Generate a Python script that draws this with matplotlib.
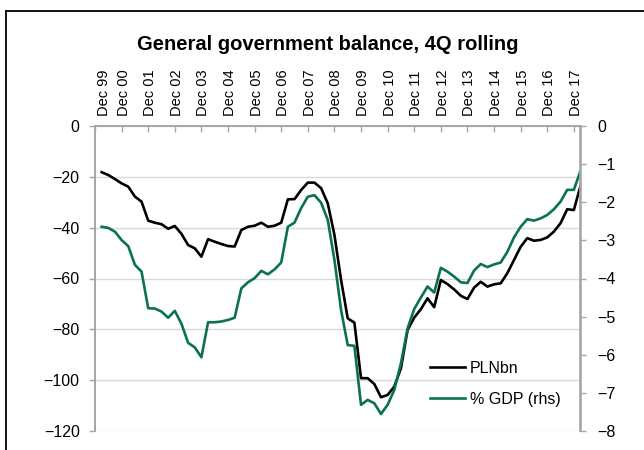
import matplotlib
matplotlib.use("Agg")
import matplotlib.pyplot as plt
from matplotlib.lines import Line2D
import numpy as np

plt.rcParams['font.family'] = ['Liberation Sans', 'DejaVu Sans']

# Quarterly data, Mar00 .. Mar18 (category index 1..73 on the axis)
pln_bn = [-18.1, -19.2, -20.8, -22.5, -23.8, -27.7, -29.7, -37.2, -38.0, -38.6,
          -40.4, -39.3, -42.4, -46.8, -48.1, -51.4, -44.5, -45.5, -46.4, -47.2,
          -47.4, -40.9, -39.6, -39.2, -38.0, -39.6, -39.2, -38.0, -28.8, -28.7,
          -25.1, -22.2, -22.2, -24.4, -30.4, -42.8, -60.6, -75.7, -77.4, -99.3,
          -99.3, -101.6, -106.8, -105.9, -102.6, -95.4, -80.3, -75.4, -72.1, -67.8,
          -71.3, -60.6, -62.2, -64.3, -66.8, -68.1, -63.6, -61.3, -63.2, -62.3,
          -61.9, -57.9, -52.7, -47.5, -44.1, -45.1, -44.8, -43.8, -41.5, -38.2,
          -32.7, -33.0, -23.5]

pct_gdp = [-2.64, -2.67, -2.77, -2.99, -3.15, -3.64, -3.82, -4.78, -4.79, -4.87,
           -5.03, -4.85, -5.19, -5.69, -5.81, -6.07, -5.15, -5.15, -5.13, -5.09,
           -5.03, -4.26, -4.10, -3.99, -3.80, -3.89, -3.76, -3.58, -2.64, -2.53,
           -2.15, -1.85, -1.81, -2.01, -2.46, -3.51, -4.83, -5.75, -5.77, -7.32,
           -7.19, -7.28, -7.56, -7.32, -6.93, -6.23, -5.31, -4.80, -4.50, -4.21,
           -4.37, -3.72, -3.82, -3.95, -4.10, -4.12, -3.79, -3.62, -3.70, -3.63,
           -3.58, -3.30, -2.92, -2.64, -2.44, -2.48, -2.42, -2.33, -2.18, -1.98,
           -1.67, -1.67, -1.17]

year_labels = ["Dec 99", "Dec 00", "Dec 01", "Dec 02", "Dec 03", "Dec 04", "Dec 05",
               "Dec 06", "Dec 07", "Dec 08", "Dec 09", "Dec 10", "Dec 11", "Dec 12",
               "Dec 13", "Dec 14", "Dec 15", "Dec 16", "Dec 17"]

black = "#000000"
green = "#0a7250"
axis_grey = "#a6a6a6"
grid_grey = "#d9d9d9"

fig = plt.figure(figsize=(6.44, 4.5), dpi=100)
ax = fig.add_axes([95 / 644, 1 - 430.7 / 450, 485.5 / 644, 304.4 / 450])
ax2 = ax.twinx()

x = np.arange(1, len(pln_bn) + 1)
ax.plot(x, pln_bn, color=black, lw=1.9, solid_joinstyle='round')
ax2.plot(x, pct_gdp, color=green, lw=1.9, solid_joinstyle='round')

ax.set_xlim(0, 73)
ax.set_ylim(-120, 0)
ax2.set_ylim(-8, 0)
ax.set_yticks(np.arange(-120, 1, 20))
ax2.set_yticks(np.arange(-8, 1, 1))

ax.grid(axis='y', color=grid_grey, lw=1)
ax.set_axisbelow(True)

for a in (ax, ax2):
    a.spines['bottom'].set_visible(False)
    for s in ('top', 'left', 'right'):
        a.spines[s].set_color(axis_grey)
        a.spines[s].set_linewidth(1.2)

ax.tick_params(axis='y', direction='out', length=4, width=1, color=axis_grey,
               labelsize=11.5, pad=7)
ax2.tick_params(axis='y', direction='out', length=4, width=1, color=axis_grey,
                labelsize=11.5, pad=8)

# category axis along the top (value 0), tick marks pointing down
ticks = np.arange(0, 73, 4)
ax.set_xticks(ticks)
ax.xaxis.set_ticks_position('top')
ax.tick_params(axis='x', direction='in', length=4, width=1, color=axis_grey,
               labeltop=False, labelbottom=False)
ax2.tick_params(axis='x', top=False, bottom=False, labeltop=False, labelbottom=False)

for i, (t, lab) in enumerate(zip(ticks, year_labels)):
    shift = 1.4 if i == 0 else 0.3
    ax.text(t + shift, 1.035, lab, transform=ax.get_xaxis_transform(),
            rotation=90, ha='center', va='bottom', fontsize=10.5)

fig.text(328 / 644, 1 - 44 / 450, "General government balance, 4Q rolling",
         ha='center', va='center', fontsize=14.5, fontweight='bold')

handles = [Line2D([], [], color=black, lw=1.9), Line2D([], [], color=green, lw=1.9)]
fig.legend(handles, ["PLNbn", "% GDP (rhs)"], loc='upper left',
           bbox_to_anchor=(430 / 644, 1 - 361 / 450), bbox_transform=fig.transFigure,
           frameon=False, fontsize=11.5, handlelength=2.2, handletextpad=0.3,
           labelspacing=1.0, borderpad=0, borderaxespad=0)

# outer frame of the original chart box (top and left edges visible)
fig.add_artist(Line2D([6 / 644, 6 / 644], [0, 1 - 11 / 450], color='black', lw=1.3,
                      transform=fig.transFigure))
fig.add_artist(Line2D([6 / 644, 1], [1 - 11 / 450, 1 - 11 / 450], color='black', lw=1.3,
                      transform=fig.transFigure))

fig.savefig("out.png", dpi=100)
